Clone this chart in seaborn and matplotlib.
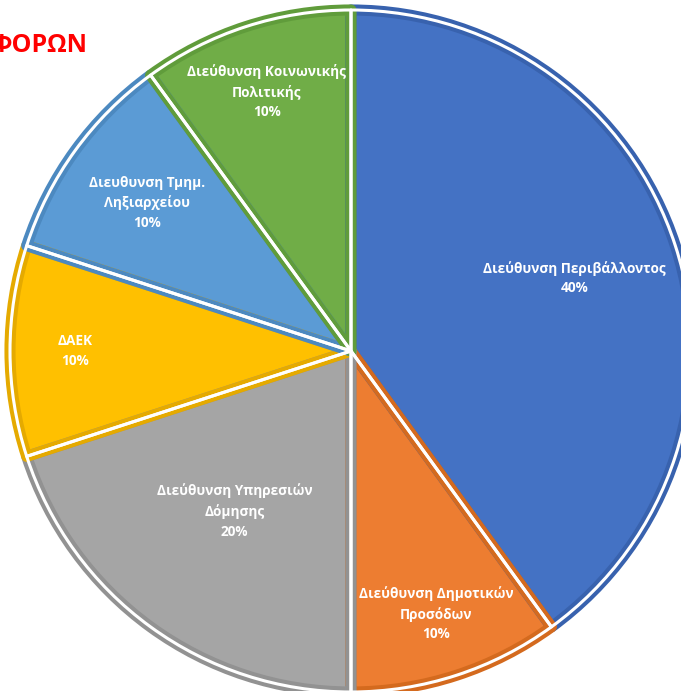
import numpy as np
import matplotlib
matplotlib.use("Agg")
import matplotlib.pyplot as plt
import seaborn as sns

# data
departments = [
    "Διεύθυνση Περιβάλλοντος",
    "Διεύθυνση Δημοτικών\nΠροσόδων",
    "Διεύθυνση Υπηρεσιών\nΔόμησης",
    "ΔΑΕΚ",
    "Διευθυνση Τμημ.\nΛηξιαρχείου",
    "Διεύθυνση Κοινωνικής\nΠολιτικής",
]
shares = [40, 10, 20, 10, 10, 10]
title_text = "ΦΟΡΩΝ"

# office palette + darker rims
fill_colors = ["#4472C4", "#ED7D31", "#A5A5A5", "#FFC000", "#5B9BD5", "#70AD47"]
rim_colors = ["#3862AE", "#D46A1E", "#929292", "#E5AA00", "#4C89C0", "#609C3B"]
label_dist = [0.69, 0.81, 0.58, 0.81, 0.74, 0.80]

sns.set_style("white")
plt.rcParams["font.family"] = ["Open Sans", "DejaVu Sans"]

W, H = 681, 691
cx, cy, R = 351, 351, 341  # pie centre / radius in pixels

fig = plt.figure(figsize=(W / 100, H / 100), dpi=100)
ax = fig.add_axes([0, 0, 1, 1])

pie_kw = dict(startangle=90, counterclock=False)
wedges, _ = ax.pie(shares, colors=fill_colors, wedgeprops=dict(linewidth=0), **pie_kw)

# darker rim inside every slice
rims, _ = ax.pie(shares, wedgeprops=dict(facecolor="none", linewidth=8), **pie_kw)
for rim, w, c in zip(rims, wedges, rim_colors):
    rim.set_edgecolor(c)
    rim.set_joinstyle("round")
    rim.set_clip_path(w.get_path(), w.get_transform())

# white gaps between slices
ax.pie(shares, wedgeprops=dict(facecolor="none", edgecolor="white", linewidth=2.2,
                               joinstyle="round"), **pie_kw)

for w, name, val, d in zip(wedges, departments, shares, label_dist):
    mid = np.deg2rad((w.theta1 + w.theta2) / 2)
    ax.text(d * np.cos(mid), d * np.sin(mid), f"{name}\n{val}%",
            ha="center", va="center", color="white", fontsize=9.8,
            fontweight="bold", linespacing=1.5)

ax.set_aspect("auto")
ax.set_xlim(-cx / R, (W - cx) / R)
ax.set_ylim(-(H - cy) / R, cy / R)
ax.axis("off")

ax.text((88 - cx) / R, (cy - 52) / R, title_text, ha="right", va="baseline",
        color="#FF0000", fontsize=18, fontweight="bold")

fig.savefig("out.png", dpi=100)
